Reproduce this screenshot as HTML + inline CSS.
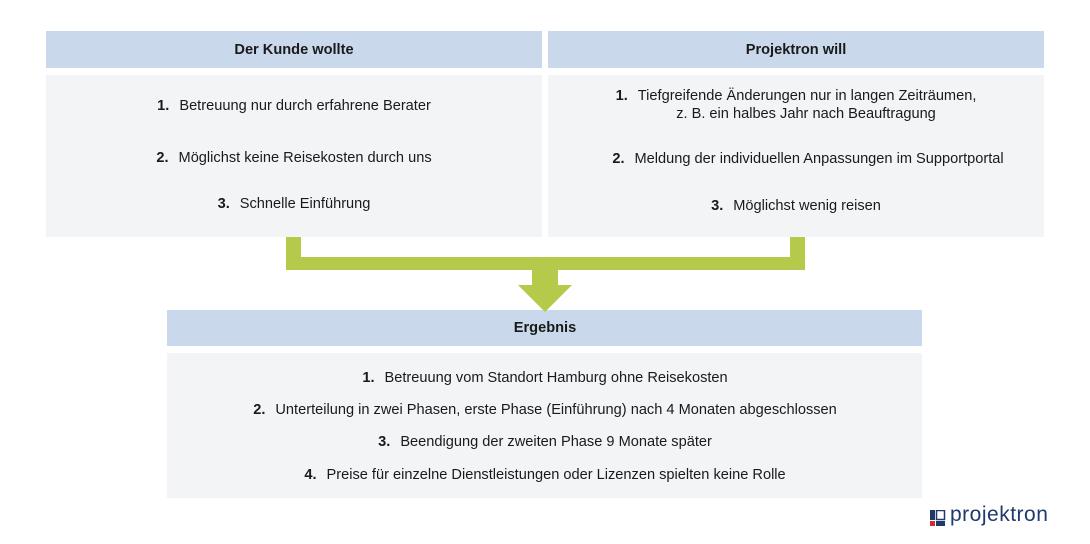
<!DOCTYPE html>
<html><head><meta charset="utf-8"><style>
body{margin:0;width:1090px;height:544px;background:#fff;position:relative;overflow:hidden;font-family:"Liberation Sans",sans-serif;color:#1a1a1a}
.b{position:absolute}
.h{background:#cad8eb}
.g{background:#f3f4f6}
.t{position:absolute;white-space:nowrap;font-size:14.6px;transform:translate(-50%,-50%)}
.t b{margin-right:10px}
.hd{font-weight:bold;font-size:14.6px}
.gr{position:absolute;background:#b5c94a}
</style></head><body>
<div class="b h" style="left:46px;top:31px;width:496px;height:37px"></div>
<div class="b h" style="left:548px;top:31px;width:496px;height:37px"></div>
<div class="b g" style="left:46px;top:75px;width:496px;height:162px"></div>
<div class="b g" style="left:548px;top:75px;width:496px;height:162px"></div>
<div class="b h" style="left:167px;top:310px;width:755px;height:36px"></div>
<div class="b g" style="left:167px;top:353px;width:755px;height:145px"></div>

<div class="gr" style="left:286px;top:237px;width:15px;height:33px"></div>
<div class="gr" style="left:790px;top:237px;width:15px;height:33px"></div>
<div class="gr" style="left:286px;top:257px;width:519px;height:13px"></div>
<div class="gr" style="left:532px;top:268px;width:26px;height:18px"></div>
<svg class="b" style="left:0;top:0" width="1090" height="544"><polygon points="518,285 572,285 545,312" fill="#b5c94a"/></svg>

<div class="t hd" style="left:294px;top:50px">Der Kunde wollte</div>
<div class="t hd" style="left:796px;top:50px">Projektron will</div>
<div class="t hd" style="left:545px;top:328px">Ergebnis</div>

<div class="t" style="left:294px;top:106px"><b>1.</b>Betreuung nur durch erfahrene Berater</div>
<div class="t" style="left:294px;top:158px"><b>2.</b>Möglichst keine Reisekosten durch uns</div>
<div class="t" style="left:294px;top:204px"><b>3.</b>Schnelle Einführung</div>

<div class="t" style="left:796px;top:96px"><b>1.</b>Tiefgreifende Änderungen nur in langen Zeiträumen,</div>
<div class="t" style="left:806px;top:114px">z. B. ein halbes Jahr nach Beauftragung</div>
<div class="t" style="left:808px;top:159px"><b>2.</b>Meldung der individuellen Anpassungen im Supportportal</div>
<div class="t" style="left:796px;top:206px"><b>3.</b>Möglichst wenig reisen</div>

<div class="t" style="left:545px;top:378px"><b>1.</b>Betreuung vom Standort Hamburg ohne Reisekosten</div>
<div class="t" style="left:545px;top:410px"><b>2.</b>Unterteilung in zwei Phasen, erste Phase (Einführung) nach 4 Monaten abgeschlossen</div>
<div class="t" style="left:545px;top:442px"><b>3.</b>Beendigung der zweiten Phase 9 Monate später</div>
<div class="t" style="left:545px;top:475px"><b>4.</b>Preise für einzelne Dienstleistungen oder Lizenzen spielten keine Rolle</div>

<svg class="b" style="left:930px;top:510px" width="16" height="16">
<rect x="0" y="0" width="5" height="10" fill="#1f3a6b"/><rect x="0" y="11" width="5" height="5" fill="#d42a2a"/>
<rect x="6.5" y="0.5" width="8" height="9" fill="none" stroke="#1f3a6b" stroke-width="1.5"/><rect x="6" y="11" width="9" height="5" fill="#1f3a6b"/>
</svg>
<div class="b" style="left:950px;top:503px;font-size:21px;color:#1f3a6b;letter-spacing:0.5px">projektron</div>
</body></html>
